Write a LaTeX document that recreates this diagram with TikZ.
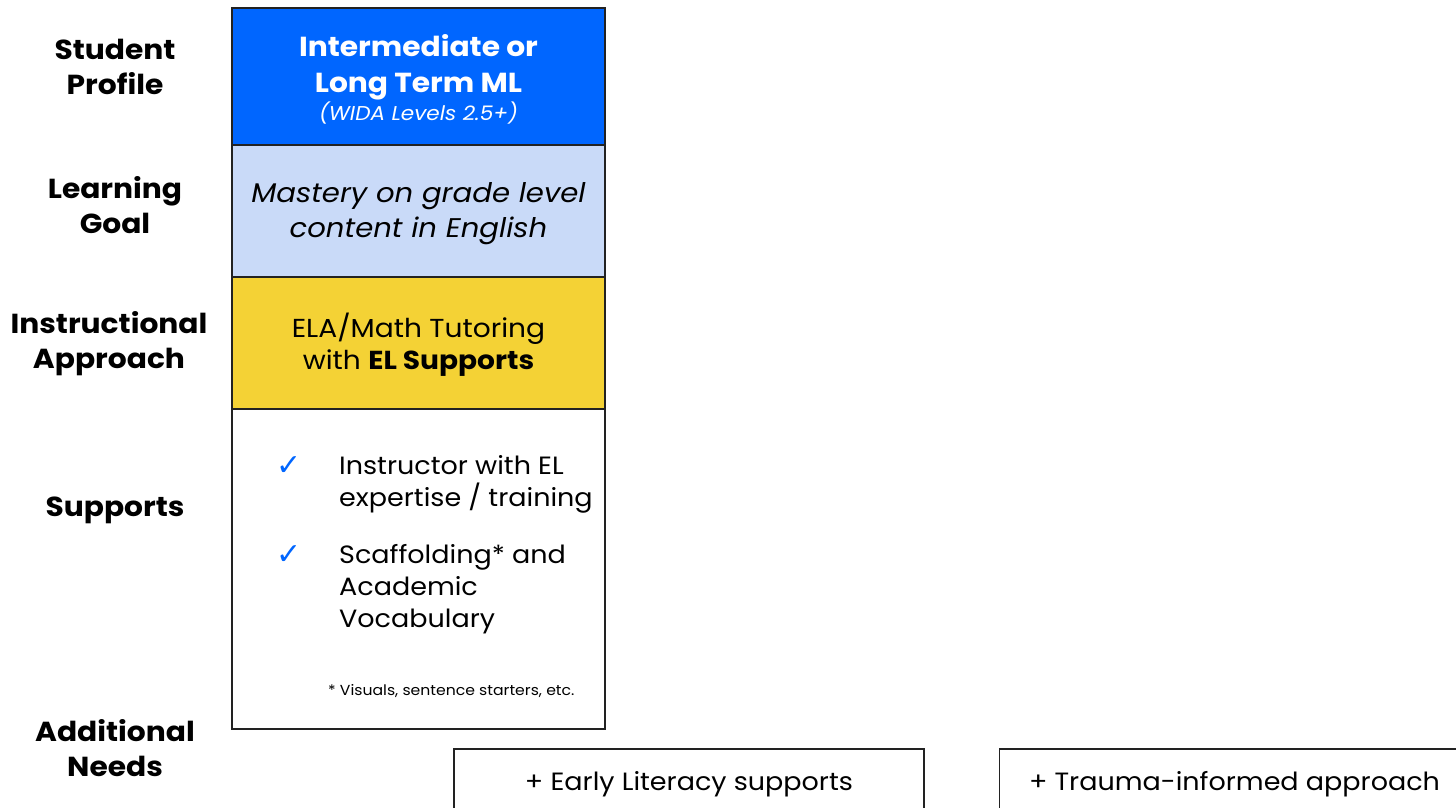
\documentclass[tikz,border=0pt]{standalone}
\usepackage{fontspec}
\setmainfont{Poppins}[FakeStretch=1.08]
\newfontfamily\symfont{DejaVu Sans}
\usetikzlibrary{positioning}

\definecolor{profileblue}{HTML}{0066FF}
\definecolor{goalblue}{HTML}{C9DAF8}
\definecolor{approachyellow}{HTML}{F4D235}
\definecolor{edgegray}{HTML}{222222}

\tikzset{
  rowbox/.style={draw=edgegray, line width=2pt, minimum width=373pt, inner sep=0pt},
  boxtext/.style={align=center, inner sep=0pt},
  rowlabel/.style={font=\fontsize{27.5}{35}\selectfont\bfseries, align=center},
  needbox/.style={draw=edgegray, line width=1.5pt, minimum width=470pt, minimum height=70pt,
    inner sep=0pt, font=\fontsize{25}{30}\selectfont},
  checkmark/.style={text=profileblue, font=\symfont\fontsize{30}{32}\selectfont, anchor=base},
  supportitem/.style={anchor=north west, inner sep=0pt, align=left, font=\fontsize{25}{32}\selectfont},
}

\begin{document}
\begin{tikzpicture}[x=1pt, y=-1pt]
  \clip (0,0) rectangle (1456,807);
  \fill[white] (0,0) rectangle (1456,807);

  % row captions on the left
  \node[rowlabel] (lprofile) at (115,67) {Student\\Profile};
  \node[rowlabel] (lgoal) at (115,205) {Learning\\Goal};
  \node[rowlabel] (lapproach) at (109,344) {Instructional\\Approach};
  \node[rowlabel] (lsupports) at (115,510) {Supports};
  \node[rowlabel] (lneeds) at (115,748) {Additional\\Needs};

  % the column of boxes
  \node[rowbox, fill=profileblue, minimum height=137pt] (profile) at (418.5,76.5) {};
  \node[rowbox, fill=goalblue, minimum height=132pt] (goal) at (418.5,211) {};
  \node[rowbox, fill=approachyellow, minimum height=132pt] (approach) at (418.5,343) {};
  \node[rowbox, fill=white, minimum height=320pt] (supports) at (418.5,569) {};

  % box texts, set a little below centre
  \node[boxtext, text=white, font=\fontsize{27.5}{36}\selectfont\bfseries, yshift=-3pt] (profiletext) at (profile.center)
    {Intermediate or\\Long Term ML\\[-8pt]
     \fontsize{20}{24}\selectfont\mdseries\itshape (WIDA Levels 2.5+)};
  \node[boxtext, font=\fontsize{27}{35}\selectfont\itshape, yshift=-3pt] (goaltext) at (goal.center)
    {Mastery on grade level\\content in English};
  \node[boxtext, font=\fontsize{26}{32}\selectfont, yshift=-2pt] (approachtext) at (approach.center)
    {ELA/Math Tutoring\\with \textbf{EL Supports}};

  % supports list
  \node[checkmark] (check1) at (289,475) {✓};
  \node[supportitem] (item1) at (339,455) {Instructor with EL\\expertise / training};
  \node[checkmark] (check2) at (289,564) {✓};
  \node[supportitem] (item2) at (339,544) {Scaffolding* and\\Academic\\Vocabulary};
  \node[anchor=base west, inner sep=0pt, font=\fontsize{14.5}{18}\selectfont] (footnote) at (328,695)
    {* Visuals, sentence starters, etc.};

  % additional needs
  \node[needbox] (literacy) at (689,784) {+ Early Literacy supports};
  \node[needbox] (trauma) at (1234.5,784) {+ Trauma-informed approach};
\end{tikzpicture}
\end{document}
